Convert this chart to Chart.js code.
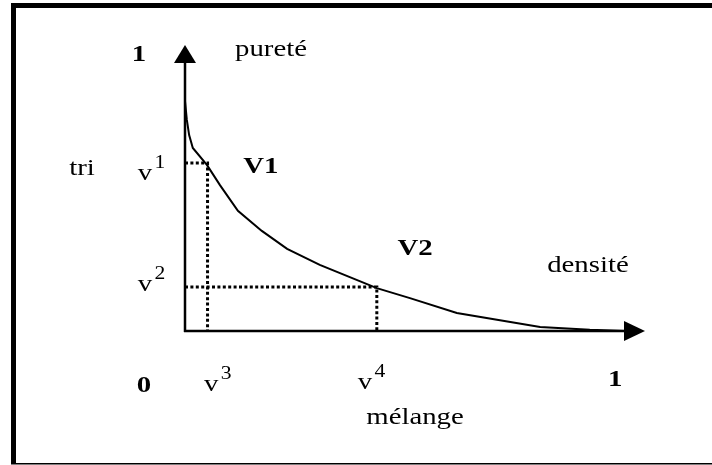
<!DOCTYPE html>
<html>
<head>
<meta charset="utf-8">
<script src="https://cdn.jsdelivr.net/npm/chart.js@4/dist/chart.umd.min.js"></script>
<style>
  html, body { margin: 0; padding: 0; background: #fff; }
  #wrap { width: 712px; height: 465px; position: relative; }
  .pre { position: absolute; left: -9999px; top: 0; font-family: "Liberation Serif"; }
</style>
</head>
<body>
<div id="wrap"><canvas id="c"></canvas></div>
<span class="pre">pureté</span><span class="pre" style="font-weight:bold">V1</span>
<script>
// ---- data (chart units: 0..1 on both axes) ----
const curveX = [0.000, 0.004, 0.009, 0.017, 0.048, 0.076, 0.115, 0.167, 0.222, 0.293, 0.357, 0.417, 0.489, 0.591, 0.772, 0.880, 0.957];
const curveY = [0.804, 0.738, 0.685, 0.640, 0.580, 0.510, 0.420, 0.350, 0.287, 0.231, 0.189, 0.150, 0.115, 0.063, 0.014, 0.004, 0.000];
const levelNames = ['v1', 'v2'];
const levelY = [0.587, 0.154];      // v¹, v² (pureté)
const levelX = [0.049, 0.417];      // v³, v⁴ (mélange)

// text annotations: [text, x, y] in chart units
const plainLabels = [
  ['pureté', 0.187, 0.962],
  ['tri', -0.224, 0.545],
  ['densité', 0.876, 0.206],
  ['mélange', 0.500, -0.325]
];
const boldLabels = [
  ['1', -0.100, 0.944],
  ['V1', 0.165, 0.552],
  ['V2', 0.500, 0.266],
  ['0', -0.089, -0.213],
  ['1', 0.935, -0.192]
];
const vLabels = [
  // base, sup, x, y
  ['v', '1', -0.087, 0.528],
  ['v', '2', -0.087, 0.140],
  ['v', '3', 0.057, -0.210],
  ['v', '4', 0.391, -0.203]
];

const curve = curveX.map((x, i) => ({ x, y: curveY[i] }));
const guide1 = [{ x: 0, y: levelY[0] }, { x: levelX[0], y: levelY[0] }, { x: levelX[0], y: 0 }];
const guide2 = [{ x: 0, y: levelY[1] }, { x: levelX[1], y: levelY[1] }, { x: levelX[1], y: 0 }];

const SERIF = '"Liberation Serif", "Times New Roman", Times, serif';
const STRETCH = 1.2;

function drawText(ctx, txt, px, py, font) {
  ctx.save();
  ctx.font = font;
  ctx.fillStyle = '#000';
  ctx.textAlign = 'center';
  ctx.textBaseline = 'alphabetic';
  ctx.translate(px, py);
  ctx.scale(STRETCH, 1);
  ctx.fillText(txt, 0, 0);
  ctx.restore();
}

const decor = {
  id: 'decor',
  beforeDraw(chart) {
    const ctx = chart.ctx;
    ctx.save();
    ctx.fillStyle = '#fff';
    ctx.fillRect(0, 0, chart.width, chart.height);
    ctx.fillStyle = '#000';
    ctx.fillRect(11, 3, 701, 5);
    ctx.fillRect(11, 3, 5, 461);
    ctx.fillRect(11, 463, 701, 1.5);
    ctx.restore();
  },
  afterDatasetsDraw(chart) {
    const ctx = chart.ctx;
    const xs = chart.scales.x, ys = chart.scales.y;
    const x0 = xs.getPixelForValue(0), y0 = ys.getPixelForValue(0);
    const xTip = xs.getPixelForValue(1), yTip = ys.getPixelForValue(1);
    ctx.save();
    ctx.strokeStyle = '#000';
    ctx.fillStyle = '#000';
    ctx.lineWidth = 2.5;
    ctx.beginPath();
    ctx.moveTo(x0, y0 + 1);
    ctx.lineTo(x0, yTip + 18);
    ctx.stroke();
    ctx.beginPath();
    ctx.moveTo(x0 - 1, y0);
    ctx.lineTo(xTip - 21, y0);
    ctx.stroke();
    ctx.beginPath();
    ctx.moveTo(x0, yTip);
    ctx.lineTo(x0 - 11, yTip + 18);
    ctx.lineTo(x0 + 11, yTip + 18);
    ctx.closePath();
    ctx.fill();
    ctx.beginPath();
    ctx.moveTo(xTip, y0);
    ctx.lineTo(xTip - 21, y0 - 10);
    ctx.lineTo(xTip - 21, y0 + 10);
    ctx.closePath();
    ctx.fill();
    ctx.restore();

    const P = (x, y) => [xs.getPixelForValue(x), ys.getPixelForValue(y)];
    plainLabels.forEach(([t, x, y]) => { const [px, py] = P(x, y); drawText(ctx, t, px, py, '24px ' + SERIF); });
    boldLabels.forEach(([t, x, y]) => { const [px, py] = P(x, y); drawText(ctx, t, px, py, 'bold 24px ' + SERIF); });
    vLabels.forEach(([b, s, x, y]) => {
      const [px, py] = P(x, y);
      drawText(ctx, b, px, py, '24px ' + SERIF);
      drawText(ctx, s, px + 15, py - 12, '18px ' + SERIF);
    });
  }
};

function build() {
  new Chart(document.getElementById('c'), {
    type: 'line',
    data: {
      datasets: [
        { label: 'courbe', data: curve, borderColor: '#000', borderWidth: 2, pointRadius: 0, tension: 0, clip: false },
        { label: levelNames[0], data: guide1, borderColor: '#000', borderWidth: 3, borderDash: [3, 2.4], pointRadius: 0, tension: 0, clip: false },
        { label: levelNames[1], data: guide2, borderColor: '#000', borderWidth: 3, borderDash: [3, 2.4], pointRadius: 0, tension: 0, clip: false }
      ]
    },
    options: {
      responsive: true,
      maintainAspectRatio: false,
      animation: false,
      events: [],
      layout: { padding: { left: 185, right: 67, top: 45, bottom: 134 } },
      scales: {
        x: { type: 'linear', min: 0, max: 1, display: false },
        y: { type: 'linear', min: 0, max: 1, display: false }
      },
      plugins: { legend: { display: false }, tooltip: { enabled: false } }
    },
    plugins: [decor]
  });
}

Promise.all([
  document.fonts.load('24px "Liberation Serif"'),
  document.fonts.load('bold 24px "Liberation Serif"')
]).then(build, build);
</script>
</body>
</html>
